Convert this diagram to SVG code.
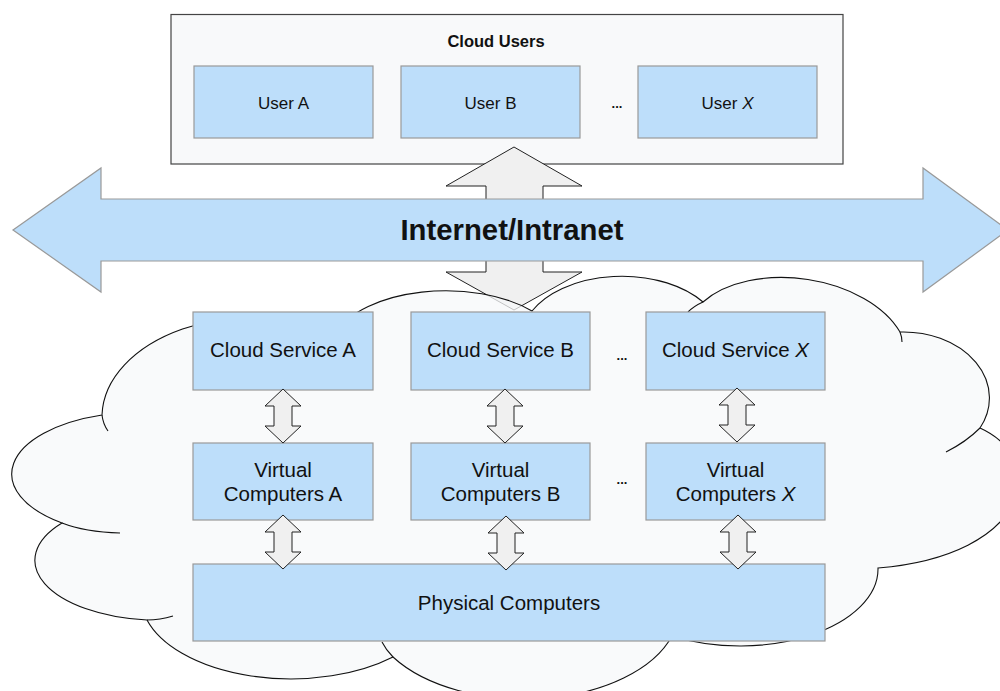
<svg xmlns="http://www.w3.org/2000/svg" width="1000" height="691" viewBox="0 0 1000 691">
<defs>
<style>
.box{fill:#bddefa;stroke:#999;stroke-width:1.2}
.txt{font-family:"Liberation Sans",Arial,sans-serif;fill:#111;text-anchor:middle}
.lbl{font-size:20.5px}
.usr{font-size:17px}
.dots{font-family:"Liberation Sans",Arial,sans-serif;font-weight:bold;font-size:13px;fill:#111;text-anchor:middle}
.garrow{fill:#f0f0f0;stroke:#222;stroke-width:1}
.hook{fill:none;stroke:#111;stroke-width:1.1}
</style>
<path id="dbl" d="M0,-27 L18,-10 L9,-10 L9,10 L18,10 L0,27 L-18,10 L-9,10 L-9,-10 L-18,-10 Z"/>
</defs>

<g id="cloud-users">
<rect x="171" y="14.5" width="672" height="149.5" fill="#f8f9fa" stroke="#444" stroke-width="1.2"/>
<text class="txt" x="496" y="47" font-size="16.5" font-weight="bold">Cloud Users</text>
</g>
<g id="user-a">
<rect class="box" x="194" y="66" width="179" height="72"/>
<text class="txt usr" x="283.5" y="109">User A</text>
</g>
<g id="user-b">
<rect class="box" x="401" y="66" width="179" height="72"/>
<text class="txt usr" x="490.5" y="109">User B</text>
</g>
<text class="dots" x="617" y="108">...</text>
<g id="user-x">
<rect class="box" x="638" y="66" width="179" height="72"/>
<text class="txt usr" x="727.5" y="109">User <tspan font-style="italic">X</tspan></text>
</g>

<g id="connectors-main">
<path class="garrow" d="M514,147 L582,186 L543,186 L543,272 L582,272 L514,310 L446,272 L486,272 L486,186 L446,186 Z"/>
</g>

<g id="cloud">
<path d="M102,415 A152,100 0 0 1 336,333 A115,60 0 0 1 532,311 A100,62 0 0 1 703,302 A112,70 8 0 1 900,332 A86,66 0 0 1 980,428 C1050,460 1030,555 878,568 A138,77 0 0 1 672,636 A155,90 0 0 1 393,657 A150,82 0 0 1 147,620 A125,60 0 0 1 62,523 A130,62 0 0 1 102,415 Z" fill="#f7f8fa" fill-opacity="0.75" stroke="#111" stroke-width="1.1"/>
<path class="hook" d="M102,415 Q103,424 108,431"/>
<path class="hook" d="M62,523 Q85,532 120,533"/>
<path class="hook" d="M147,620 Q160,620 173,616"/>
<path class="hook" d="M393,657 Q386,650 382,642"/>
<path class="hook" d="M703,302 Q694,306 688,312"/>
<path class="hook" d="M900,332 Q902,337 902,342"/>
<path class="hook" d="M980,428 Q966,442 946,452"/>
</g>

<g id="internet">
<path d="M13,230 L101,168 L101,199 L923,199 L923,168 L1008,230 L923,292 L923,261 L101,261 L101,292 Z" fill="#bddefa" stroke="#999" stroke-width="1.2"/>
<text class="txt" x="512" y="240" font-size="29.3" font-weight="bold">Internet/Intranet</text>
</g>

<g id="cloud-service-a">
<rect class="box" x="193" y="312" width="180" height="78"/>
<text class="txt lbl" x="283" y="357">Cloud Service A</text>
</g>
<g id="cloud-service-b">
<rect class="box" x="411" y="312" width="179" height="78"/>
<text class="txt lbl" x="500.5" y="357">Cloud Service B</text>
</g>
<text class="dots" x="622" y="360">...</text>
<g id="cloud-service-x">
<rect class="box" x="646" y="312" width="179" height="78"/>
<text class="txt lbl" x="735.5" y="357">Cloud Service <tspan font-style="italic">X</tspan></text>
</g>

<g id="virtual-a">
<rect class="box" x="193" y="443" width="180" height="77"/>
<text class="txt lbl" x="283" y="477">Virtual</text>
<text class="txt lbl" x="283" y="501">Computers A</text>
</g>
<g id="virtual-b">
<rect class="box" x="411" y="443" width="179" height="77"/>
<text class="txt lbl" x="500.5" y="477">Virtual</text>
<text class="txt lbl" x="500.5" y="501">Computers B</text>
</g>
<text class="dots" x="622" y="484">...</text>
<g id="virtual-x">
<rect class="box" x="646" y="443" width="179" height="77"/>
<text class="txt lbl" x="735.5" y="477">Virtual</text>
<text class="txt lbl" x="735.5" y="501">Computers <tspan font-style="italic">X</tspan></text>
</g>

<g id="physical">
<rect class="box" x="193" y="564" width="632" height="77"/>
<text class="txt lbl" x="509" y="610">Physical Computers</text>
</g>

<g id="connectors">
<use href="#dbl" class="garrow" x="283" y="416"/>
<use href="#dbl" class="garrow" x="505" y="416"/>
<use href="#dbl" class="garrow" x="737" y="415"/>
<use href="#dbl" class="garrow" x="283" y="542"/>
<use href="#dbl" class="garrow" x="506" y="543"/>
<use href="#dbl" class="garrow" x="738" y="542"/>
</g>
</svg>
